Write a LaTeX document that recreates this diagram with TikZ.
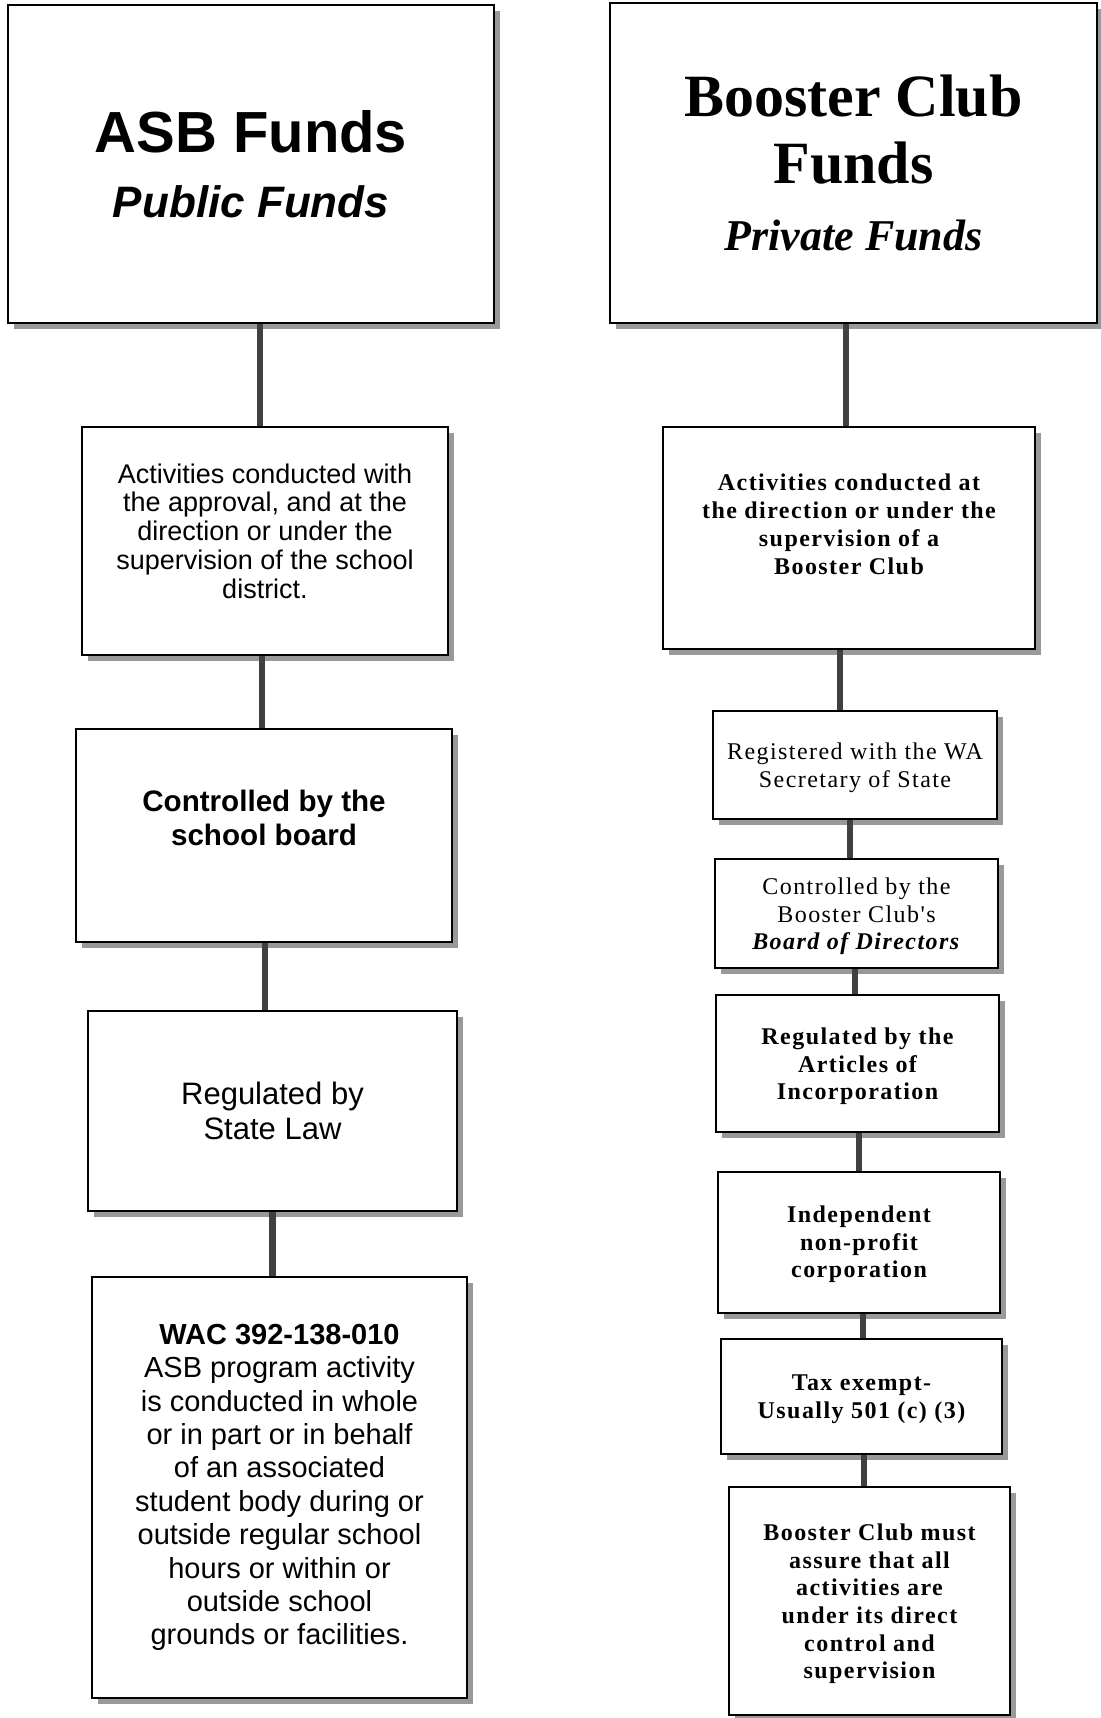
\documentclass[tikz,border=0pt]{standalone}
\usepackage{fontspec}
\setmainfont{Liberation Serif}
\newfontfamily\asbfont{Liberation Sans}
\newfontfamily\clubfont[LetterSpace=6]{Liberation Serif}
\usetikzlibrary{shadows}
\tikzset{
  fundbox/.style={draw=black, line width=1.4pt, fill=white, inner sep=0pt,
    drop shadow={shadow xshift=3pt, shadow yshift=-3pt, fill=black!40, opacity=1}},
  link/.style={line width=3.2pt, draw=black!75},
  fundtxt/.style={align=center, inner sep=0pt},
}

\begin{document}
\begin{tikzpicture}[x=0.5pt, y=-0.5pt]
  \useasboundingbox (0,0) rectangle (1100,1718);
  % ASB column
  \node[fundbox, minimum width=243pt, minimum height=159pt] (asb) at (251,164) {};
  \node[fundbox, minimum width=183pt, minimum height=114pt] (asbact) at (265,541) {};
  \node[fundbox, minimum width=188pt, minimum height=106.5pt] (asbboard) at (264,835.5) {};
  \node[fundbox, minimum width=184.5pt, minimum height=100pt] (asblaw) at (272.5,1111) {};
  \node[fundbox, minimum width=187.5pt, minimum height=210.5pt] (asbwac) at (279.5,1487.5) {};
  % Booster Club column
  \node[fundbox, minimum width=243.5pt, minimum height=160pt] (club) at (853.5,163) {};
  \node[fundbox, minimum width=186pt, minimum height=111pt] (clubact) at (849,538) {};
  \node[fundbox, minimum width=142pt, minimum height=54pt] (clubsos) at (855,765) {};
  \node[fundbox, minimum width=141.5pt, minimum height=54.5pt] (clubdir) at (856.5,913.5) {};
  \node[fundbox, minimum width=141.5pt, minimum height=68.5pt] (clubart) at (857.5,1063.5) {};
  \node[fundbox, minimum width=141pt, minimum height=70.5pt] (clubnpo) at (859,1242.5) {};
  \node[fundbox, minimum width=140.5pt, minimum height=57.5pt] (clubtax) at (861.5,1396.5) {};
  \node[fundbox, minimum width=140.5pt, minimum height=114pt] (clubsup) at (869.5,1601) {};

  % texts, left
  \node[fundtxt, font=\asbfont\bfseries\fontsize{29}{32.5}\selectfont] (asbtitle) at (asb)
    {ASB Funds\\\fontsize{22}{32.5}\selectfont\itshape Public Funds};
  \node[fundtxt, font=\asbfont\fontsize{13.5}{14.4}\selectfont] (asbacttxt) at ([yshift=5pt]asbact.center)
    {Activities conducted with\\the approval, and at the\\direction or under the\\supervision of the school\\district.};
  \node[fundtxt, font=\asbfont\bfseries\fontsize{14.8}{17}\selectfont] (asbboardtxt) at ([yshift=8.75pt]asbboard.center)
    {Controlled by the\\school board};
  \node[fundtxt, font=\asbfont\fontsize{15.5}{17.5}\selectfont] (asblawtxt) at (asblaw)
    {Regulated by\\State Law};
  \node[fundtxt, font=\asbfont\fontsize{14.5}{16.7}\selectfont] (asbwactxt) at (asbwac)
    {\textbf{WAC 392-138-010}\\ASB program activity\\is conducted in whole\\or in part or in behalf\\of an associated\\student body during or\\outside regular school\\hours or within or\\outside school\\grounds or facilities.};

  % texts, right
  \node[fundtxt, font=\bfseries\fontsize{30}{33.3}\selectfont] (clubtitle) at (club)
    {Booster Club\\Funds\\\fontsize{22}{33}\selectfont\itshape Private Funds};
  \node[fundtxt, font=\clubfont\bfseries\fontsize{12}{14}\selectfont] (clubacttxt) at ([yshift=7pt]clubact.center)
    {Activities conducted at\\the direction or under the\\supervision of a\\Booster Club};
  \node[fundtxt, font=\clubfont\fontsize{12}{13.8}\selectfont] (clubsostxt) at ([yshift=-1.5pt]clubsos.center)
    {Registered with the WA\\Secretary of State};
  \node[fundtxt, font=\clubfont\fontsize{12}{13.8}\selectfont] (clubdirtxt) at ([yshift=-1.5pt]clubdir.center)
    {Controlled by the\\Booster Club's\\\textbf{\textit{Board of Directors}}};
  \node[fundtxt, font=\clubfont\bfseries\fontsize{12}{13.8}\selectfont] (clubarttxt) at ([yshift=-1.5pt]clubart.center)
    {Regulated by the\\Articles of\\Incorporation};
  \node[fundtxt, font=\clubfont\bfseries\fontsize{12}{13.8}\selectfont] (clubnpotxt) at ([yshift=-1pt]clubnpo.center)
    {Independent\\non-profit\\corporation};
  \node[fundtxt, font=\clubfont\bfseries\fontsize{12}{13.8}\selectfont] (clubtaxtxt) at ([yshift=-1.5pt]clubtax.center)
    {Tax exempt-\\Usually 501 (c) (3)};
  \node[fundtxt, font=\clubfont\bfseries\fontsize{12}{13.8}\selectfont] (clubsuptxt) at ([yshift=-1.5pt]clubsup.center)
    {Booster Club must\\assure that all\\activities are\\under its direct\\control and\\supervision};

  % connectors
  \draw[link] ([xshift=4.5pt]asb.south) -- ([xshift=4.5pt]asb.south |- asbact.north);
  \draw[link] ([xshift=-1.5pt]asbact.south) -- ([xshift=-1.5pt]asbact.south |- asbboard.north);
  \draw[link] ([xshift=0.5pt]asbboard.south) -- ([xshift=0.5pt]asbboard.south |- asblaw.north);
  \draw[link] (asblaw.south) -- (asblaw.south |- asbwac.north);
  \draw[link] ([xshift=-3.75pt]club.south) -- ([xshift=-3.75pt]club.south |- clubact.north);
  \draw[link] ([xshift=-4.5pt]clubact.south) -- ([xshift=-4.5pt]clubact.south |- clubsos.north);
  \draw[link] ([xshift=-2.5pt]clubsos.south) -- ([xshift=-2.5pt]clubsos.south |- clubdir.north);
  \draw[link] ([xshift=-0.75pt]clubdir.south) -- ([xshift=-0.75pt]clubdir.south |- clubart.north);
  \draw[link] ([xshift=0.75pt]clubart.south) -- ([xshift=0.75pt]clubart.south |- clubnpo.north);
  \draw[link] ([xshift=2pt]clubnpo.south) -- ([xshift=2pt]clubnpo.south |- clubtax.north);
  \draw[link] ([xshift=1.25pt]clubtax.south) -- ([xshift=1.25pt]clubtax.south |- clubsup.north);
\end{tikzpicture}
\end{document}
